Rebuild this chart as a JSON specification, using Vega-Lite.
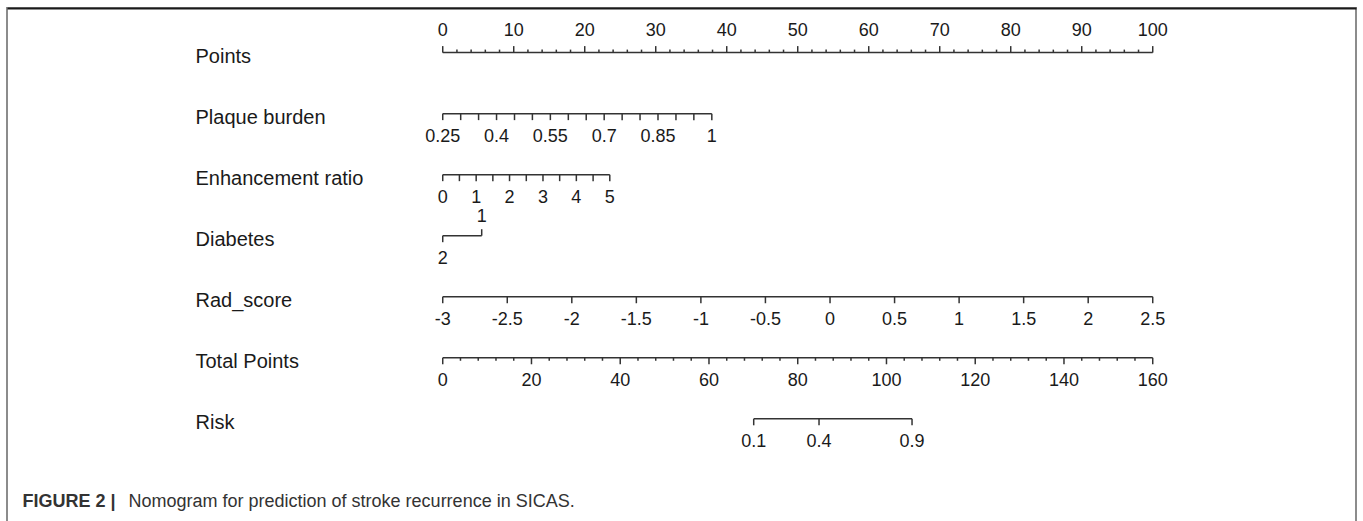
{
  "$schema": "https://vega.github.io/schema/vega-lite/v6.json",
  "width": 1363,
  "height": 521,
  "autosize": {"type": "fit", "contains": "padding"},
  "padding": {"left": 7, "right": 7, "top": 8, "bottom": 0},
  "background": "white",
  "config": {
    "font": "Liberation Sans",
    "view": {"stroke": "#8c8c8c", "strokeWidth": 2, "strokeDash": [1862, 1349, 514]}
  },
  "data": {
    "values": [
      {"var": "Points", "label": "0", "pts": 0},
      {"var": "Points", "label": "", "pts": 2},
      {"var": "Points", "label": "", "pts": 4},
      {"var": "Points", "label": "", "pts": 6},
      {"var": "Points", "label": "", "pts": 8},
      {"var": "Points", "label": "10", "pts": 10},
      {"var": "Points", "label": "", "pts": 12},
      {"var": "Points", "label": "", "pts": 14},
      {"var": "Points", "label": "", "pts": 16},
      {"var": "Points", "label": "", "pts": 18},
      {"var": "Points", "label": "20", "pts": 20},
      {"var": "Points", "label": "", "pts": 22},
      {"var": "Points", "label": "", "pts": 24},
      {"var": "Points", "label": "", "pts": 26},
      {"var": "Points", "label": "", "pts": 28},
      {"var": "Points", "label": "30", "pts": 30},
      {"var": "Points", "label": "", "pts": 32},
      {"var": "Points", "label": "", "pts": 34},
      {"var": "Points", "label": "", "pts": 36},
      {"var": "Points", "label": "", "pts": 38},
      {"var": "Points", "label": "40", "pts": 40},
      {"var": "Points", "label": "", "pts": 42},
      {"var": "Points", "label": "", "pts": 44},
      {"var": "Points", "label": "", "pts": 46},
      {"var": "Points", "label": "", "pts": 48},
      {"var": "Points", "label": "50", "pts": 50},
      {"var": "Points", "label": "", "pts": 52},
      {"var": "Points", "label": "", "pts": 54},
      {"var": "Points", "label": "", "pts": 56},
      {"var": "Points", "label": "", "pts": 58},
      {"var": "Points", "label": "60", "pts": 60},
      {"var": "Points", "label": "", "pts": 62},
      {"var": "Points", "label": "", "pts": 64},
      {"var": "Points", "label": "", "pts": 66},
      {"var": "Points", "label": "", "pts": 68},
      {"var": "Points", "label": "70", "pts": 70},
      {"var": "Points", "label": "", "pts": 72},
      {"var": "Points", "label": "", "pts": 74},
      {"var": "Points", "label": "", "pts": 76},
      {"var": "Points", "label": "", "pts": 78},
      {"var": "Points", "label": "80", "pts": 80},
      {"var": "Points", "label": "", "pts": 82},
      {"var": "Points", "label": "", "pts": 84},
      {"var": "Points", "label": "", "pts": 86},
      {"var": "Points", "label": "", "pts": 88},
      {"var": "Points", "label": "90", "pts": 90},
      {"var": "Points", "label": "", "pts": 92},
      {"var": "Points", "label": "", "pts": 94},
      {"var": "Points", "label": "", "pts": 96},
      {"var": "Points", "label": "", "pts": 98},
      {"var": "Points", "label": "100", "pts": 100},

      {"var": "Plaque burden", "label": "0.25", "pts": 0},
      {"var": "Plaque burden", "label": "", "pts": 2.53},
      {"var": "Plaque burden", "label": "", "pts": 5.05},
      {"var": "Plaque burden", "label": "0.4", "pts": 7.58},
      {"var": "Plaque burden", "label": "", "pts": 10.11},
      {"var": "Plaque burden", "label": "", "pts": 12.63},
      {"var": "Plaque burden", "label": "0.55", "pts": 15.16},
      {"var": "Plaque burden", "label": "", "pts": 17.69},
      {"var": "Plaque burden", "label": "", "pts": 20.21},
      {"var": "Plaque burden", "label": "0.7", "pts": 22.74},
      {"var": "Plaque burden", "label": "", "pts": 25.27},
      {"var": "Plaque burden", "label": "", "pts": 27.79},
      {"var": "Plaque burden", "label": "0.85", "pts": 30.32},
      {"var": "Plaque burden", "label": "", "pts": 32.85},
      {"var": "Plaque burden", "label": "", "pts": 35.37},
      {"var": "Plaque burden", "label": "1", "pts": 37.9},

      {"var": "Enhancement ratio", "label": "0", "pts": 0},
      {"var": "Enhancement ratio", "label": "", "pts": 2.35},
      {"var": "Enhancement ratio", "label": "1", "pts": 4.71},
      {"var": "Enhancement ratio", "label": "", "pts": 7.06},
      {"var": "Enhancement ratio", "label": "2", "pts": 9.41},
      {"var": "Enhancement ratio", "label": "", "pts": 11.77},
      {"var": "Enhancement ratio", "label": "3", "pts": 14.12},
      {"var": "Enhancement ratio", "label": "", "pts": 16.47},
      {"var": "Enhancement ratio", "label": "4", "pts": 18.82},
      {"var": "Enhancement ratio", "label": "", "pts": 21.18},
      {"var": "Enhancement ratio", "label": "5", "pts": 23.53},

      {"var": "Diabetes", "label": "2", "pts": 0},
      {"var": "Diabetes", "label": "1", "pts": 5.49},

      {"var": "Rad_score", "label": "-3", "pts": 0},
      {"var": "Rad_score", "label": "-2.5", "pts": 9.09},
      {"var": "Rad_score", "label": "-2", "pts": 18.18},
      {"var": "Rad_score", "label": "-1.5", "pts": 27.27},
      {"var": "Rad_score", "label": "-1", "pts": 36.36},
      {"var": "Rad_score", "label": "-0.5", "pts": 45.45},
      {"var": "Rad_score", "label": "0", "pts": 54.55},
      {"var": "Rad_score", "label": "0.5", "pts": 63.64},
      {"var": "Rad_score", "label": "1", "pts": 72.73},
      {"var": "Rad_score", "label": "1.5", "pts": 81.82},
      {"var": "Rad_score", "label": "2", "pts": 90.91},
      {"var": "Rad_score", "label": "2.5", "pts": 100},

      {"var": "Total Points", "label": "0", "pts": 0},
      {"var": "Total Points", "label": "", "pts": 2.5},
      {"var": "Total Points", "label": "", "pts": 5},
      {"var": "Total Points", "label": "", "pts": 7.5},
      {"var": "Total Points", "label": "", "pts": 10},
      {"var": "Total Points", "label": "20", "pts": 12.5},
      {"var": "Total Points", "label": "", "pts": 15},
      {"var": "Total Points", "label": "", "pts": 17.5},
      {"var": "Total Points", "label": "", "pts": 20},
      {"var": "Total Points", "label": "", "pts": 22.5},
      {"var": "Total Points", "label": "40", "pts": 25},
      {"var": "Total Points", "label": "", "pts": 27.5},
      {"var": "Total Points", "label": "", "pts": 30},
      {"var": "Total Points", "label": "", "pts": 32.5},
      {"var": "Total Points", "label": "", "pts": 35},
      {"var": "Total Points", "label": "60", "pts": 37.5},
      {"var": "Total Points", "label": "", "pts": 40},
      {"var": "Total Points", "label": "", "pts": 42.5},
      {"var": "Total Points", "label": "", "pts": 45},
      {"var": "Total Points", "label": "", "pts": 47.5},
      {"var": "Total Points", "label": "80", "pts": 50},
      {"var": "Total Points", "label": "", "pts": 52.5},
      {"var": "Total Points", "label": "", "pts": 55},
      {"var": "Total Points", "label": "", "pts": 57.5},
      {"var": "Total Points", "label": "", "pts": 60},
      {"var": "Total Points", "label": "100", "pts": 62.5},
      {"var": "Total Points", "label": "", "pts": 65},
      {"var": "Total Points", "label": "", "pts": 67.5},
      {"var": "Total Points", "label": "", "pts": 70},
      {"var": "Total Points", "label": "", "pts": 72.5},
      {"var": "Total Points", "label": "120", "pts": 75},
      {"var": "Total Points", "label": "", "pts": 77.5},
      {"var": "Total Points", "label": "", "pts": 80},
      {"var": "Total Points", "label": "", "pts": 82.5},
      {"var": "Total Points", "label": "", "pts": 85},
      {"var": "Total Points", "label": "140", "pts": 87.5},
      {"var": "Total Points", "label": "", "pts": 90},
      {"var": "Total Points", "label": "", "pts": 92.5},
      {"var": "Total Points", "label": "", "pts": 95},
      {"var": "Total Points", "label": "", "pts": 97.5},
      {"var": "Total Points", "label": "160", "pts": 100},

      {"var": "Risk", "label": "0.1", "pts": 43.8},
      {"var": "Risk", "label": "0.4", "pts": 53.0},
      {"var": "Risk", "label": "0.9", "pts": 66.1}
    ]
  },
  "encoding": {
    "x": {
      "field": "pts",
      "type": "quantitative",
      "scale": {"domain": [-61.37, 128.63], "nice": false, "zero": false},
      "axis": {
        "orient": "top",
        "domain": true,
        "domainColor": "#1a1a1a",
        "domainWidth": 2,
        "labels": false,
        "ticks": false,
        "grid": false,
        "minExtent": 0,
        "maxExtent": 0,
        "title": "Nomogram for prediction of stroke recurrence in SICAS.",
        "titleFont": "Liberation Sans",
        "titleFontWeight": "normal",
        "titleFontSize": 18,
        "titleColor": "#333333",
        "titleX": 121,
        "titleY": 498,
        "titleAlign": "left",
        "titleBaseline": "alphabetic",
        "titleAngle": 0
      }
    },
    "y": {
      "field": "var",
      "type": "nominal",
      "scale": {
        "type": "point",
        "domain": ["Points", "Plaque burden", "Enhancement ratio", "Diabetes", "Rad_score", "Total Points", "Risk"],
        "range": [44.6, 410.8],
        "padding": 0,
        "round": false
      },
      "axis": {
        "orient": "left",
        "offset": -188,
        "domain": false,
        "ticks": false,
        "tickSize": 0,
        "grid": false,
        "labelAlign": "left",
        "labelBaseline": "middle",
        "labelPadding": 0,
        "labelOffset": 3.5,
        "labelFontSize": 20,
        "labelColor": "#1a1a1a",
        "labelLimit": 400,
        "minExtent": 0,
        "maxExtent": 0,
        "title": "FIGURE 2 |",
        "titleFontWeight": "bold",
        "titleFontSize": 18,
        "titleColor": "#333333",
        "titleAngle": 0,
        "titleAlign": "left",
        "titleBaseline": "alphabetic",
        "titleX": -173,
        "titleY": 498
      }
    }
  },
  "layer": [
    {
      "mark": {"type": "rule", "color": "#333333", "strokeWidth": 1.5},
      "encoding": {
        "x": {"aggregate": "min", "field": "pts", "type": "quantitative"},
        "x2": {"aggregate": "max", "field": "pts"},
        "y": {"field": "var", "type": "nominal"}
      }
    },
    {
      "transform": [{"filter": "datum.var != 'Points' && !(datum.var == 'Total Points' && datum.label == '') && !(datum.var == 'Diabetes' && datum.label == '1')"}],
      "mark": {"type": "tick", "color": "#333333", "thickness": 1.5, "size": 6.5, "yOffset": 3.25, "opacity": 1}
    },
    {
      "transform": [{"filter": "datum.var == 'Total Points' && datum.label == ''"}],
      "mark": {"type": "tick", "color": "#333333", "thickness": 1.5, "size": 3, "yOffset": 1.5, "opacity": 1}
    },
    {
      "transform": [{"filter": "(datum.var == 'Points' && datum.label != '') || (datum.var == 'Diabetes' && datum.label == '1')"}],
      "mark": {"type": "tick", "color": "#333333", "thickness": 1.5, "size": 6.5, "yOffset": -3.25, "opacity": 1}
    },
    {
      "transform": [{"filter": "datum.var == 'Points' && datum.label == ''"}],
      "mark": {"type": "tick", "color": "#333333", "thickness": 1.5, "size": 3, "yOffset": -1.5, "opacity": 1}
    },
    {
      "transform": [{"filter": "datum.label != '' && datum.var != 'Points' && !(datum.var == 'Diabetes' && datum.label == '1')"}],
      "mark": {"type": "text", "fontSize": 18, "color": "#1a1a1a", "align": "center", "baseline": "middle", "yOffset": 23.5},
      "encoding": {"text": {"field": "label"}}
    },
    {
      "transform": [{"filter": "datum.var == 'Points'"}],
      "mark": {"type": "text", "fontSize": 18, "color": "#1a1a1a", "align": "center", "baseline": "middle", "yOffset": -22},
      "encoding": {"text": {"field": "label"}}
    },
    {
      "transform": [{"filter": "datum.var == 'Diabetes' && datum.label == '1'"}],
      "mark": {"type": "text", "fontSize": 18, "color": "#1a1a1a", "align": "center", "baseline": "middle", "yOffset": -19},
      "encoding": {"text": {"field": "label"}}
    }
  ]
}
